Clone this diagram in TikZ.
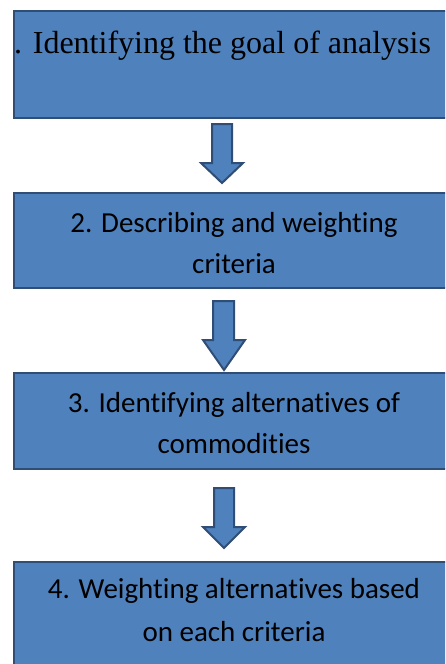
\documentclass[tikz,border=0pt]{standalone}
\usepackage{fontspec}
\setmainfont{Carlito}[Ligatures=NoCommon]
\newfontfamily\timesfont{Liberation Serif}

\definecolor{boxblue}{HTML}{4F81BD}
\definecolor{boxline}{HTML}{2F4D75}

\tikzset{
  stepbox/.style={rectangle, draw=boxline, line width=2pt, fill=boxblue,
                  minimum width=470pt, anchor=north west, inner sep=0pt},
  steptext/.style={font=\fontsize{29}{41}\selectfont, align=center,
                   anchor=base, inner sep=0pt},
  blockarrow/.style={draw=boxline, line width=2pt, fill=boxblue, line join=miter}
}

\begin{document}
\begin{tikzpicture}[x=1pt, y=-1pt]
\useasboundingbox (0,0) rectangle (445,664);
\clip (0,0) rectangle (445,664);

% the four steps
\node (goal) at (13, 10) [stepbox, minimum height=107pt] {};
\node (crit) at (13, 192) [stepbox, minimum height=95pt] {};
\node (alt) at (13, 372) [stepbox, minimum height=96pt] {};
\node (wgt) at (13, 561) [stepbox, minimum height=120pt] {};

% texts, placed by the baseline of their last line
\node (goaltext) at (14, 53) [steptext, anchor=base west,
      font=\timesfont\fontsize{32}{38}\selectfont] {. Identifying the goal of analysis};
\node (crittext) at (234, 273) [steptext] {2. Describing and weighting\\criteria};
\node (alttext) at (234, 453) [steptext] {3. Identifying alternatives of\\commodities};
\node (wgttext) at (234, 641) [steptext, font=\fontsize{29}{43}\selectfont]
      {4. Weighting alternatives based\\on each criteria};

% block arrows between the steps
\path [blockarrow] (212,124) -- (212,163) -- (201,163) -- (222,183)
      -- (243,163) -- (232,163) -- (232,124) -- cycle;
\path [blockarrow] (213,301) -- (213,340) -- (203,340) -- (224,370)
      -- (245,340) -- (234,340) -- (234,301) -- cycle;
\path [blockarrow] (214,488) -- (214,527) -- (203,527) -- (224,548)
      -- (245,527) -- (234,527) -- (234,488) -- cycle;
\end{tikzpicture}
\end{document}
